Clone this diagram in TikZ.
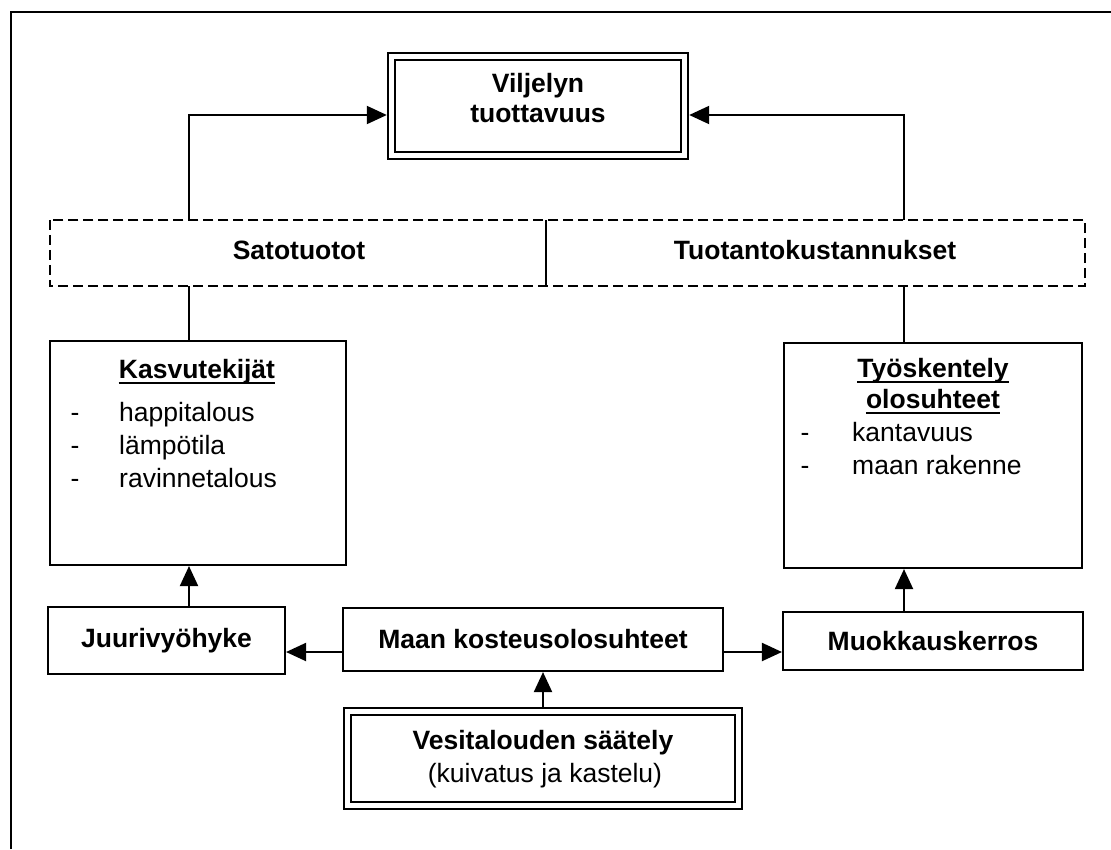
\documentclass[tikz,border=0pt]{standalone}
\usepackage{fontspec}
\setmainfont{Liberation Sans}
\usetikzlibrary{arrows.meta,calc}
\begin{document}
\begin{tikzpicture}[x=1pt,y=-1pt,
  every node/.style={font=\fontsize{26.5pt}{31pt}\selectfont},
  box/.style={draw,line width=2.1pt,inner sep=0pt},
  dbox/.style={draw,line width=2.2pt,double,double distance=5pt,inner sep=0pt,outer sep=4.7pt},
  boldbox/.style={box,font=\fontsize{26.5pt}{31pt}\selectfont\bfseries},
  txtb/.style={anchor=base,inner sep=0pt,font=\fontsize{26.5pt}{31pt}\selectfont\bfseries},
  txtc/.style={anchor=base,inner sep=0pt},
  txtl/.style={anchor=base west,inner sep=0pt},
  uline/.style={line width=1.9pt},
  dashbox/.style={line width=1.8pt,dash pattern=on 10pt off 5pt},
  conn/.style={line width=2pt},
  arr/.style={conn,-{Triangle[length=20pt,width=18pt]}}
]
\useasboundingbox (0,0) rectangle (1111,849);

% page frame (left and top edges)
\draw[line width=2.2pt] (11,849) -- (11,12) -- (1111,12);

% goal box
\node[dbox,minimum width=293pt,minimum height=99pt] (tuot) at (538,106) {};
\node[txtb] (tuot1) at (538,92) {Viljelyn};
\node[txtb] (tuot2) at (538,122) {tuottavuus};

% returns / costs band
\node[inner sep=0pt,minimum width=496pt,minimum height=66pt] (sato) at (298,253) {};
\node[inner sep=0pt,minimum width=539pt,minimum height=66pt] (tkust) at (815.5,253) {};
\draw[dashbox] (sato.north west) rectangle (tkust.south east);
\draw[conn,line width=1.7pt] (sato.north east) -- (sato.south east);
\node[txtb] (satot) at (299,259) {Satotuotot};
\node[txtb] (tkustt) at (815,259) {Tuotantokustannukset};

% growth factors
\node[box,minimum width=296pt,minimum height=224pt] (kasvu) at (198,453) {};
\node[txtb] (kasvut) at (197,378) {Kasvutekijät};
\draw[uline] ([yshift=-5pt]kasvut.base west) -- ([yshift=-5pt]kasvut.base east);
\node[txtc] (k1d) at (75,421) {-};
\node[txtl] (k1) at (119,421) {happitalous};
\node[txtc] (k2d) at (75,454) {-};
\node[txtl] (k2) at (119,454) {lämpötila};
\node[txtc] (k3d) at (75,487) {-};
\node[txtl] (k3) at (119,487) {ravinnetalous};

% working conditions
\node[box,minimum width=298pt,minimum height=225pt] (tyo) at (933,455.5) {};
\node[txtb] (tyot1) at (933,377) {Työskentely};
\draw[uline] ([yshift=-5pt]tyot1.base west) -- ([yshift=-5pt]tyot1.base east);
\node[txtb] (tyot2) at (933,408) {olosuhteet};
\draw[uline] ([yshift=-5pt]tyot2.base west) -- ([yshift=-5pt]tyot2.base east);
\node[txtc] (t1d) at (805,441) {-};
\node[txtl] (t1) at (852,441) {kantavuus};
\node[txtc] (t2d) at (805,474) {-};
\node[txtl] (t2) at (852,474) {maan rakenne};

% soil layers
\node[boldbox,minimum width=237pt,minimum height=67pt] (juuri) at (166.5,640.5) {Juurivyöhyke};
\node[boldbox,minimum width=380pt,minimum height=63pt] (maan) at (533,639.5) {Maan kosteusolosuhteet};
\node[boldbox,minimum width=300pt,minimum height=58pt] (muok) at (933,641) {Muokkauskerros};

% water management
\node[dbox,minimum width=391pt,minimum height=94pt] (vesi) at (543,758.5) {};
\node[txtb] (vesi1) at (543,749) {Vesitalouden säätely};
\node[txtc] (vesi2) at (545,782) {(kuivatus ja kastelu)};

% connectors
\coordinate (lx) at (189,0);
\coordinate (rx) at (904,0);
\coordinate (ay) at (0,652);
\draw[arr] (sato.north -| lx) |- ([yshift=-9pt]tuot.west);
\draw[arr] (tkust.north -| rx) |- ([yshift=-9pt]tuot.east);
\draw[conn] (sato.south -| lx) -- (kasvu.north -| lx);
\draw[conn] (tkust.south -| rx) -- (tyo.north -| rx);
\draw[arr] (juuri.north -| lx) -- (kasvu.south -| lx);
\draw[arr] (muok.north -| rx) -- (tyo.south -| rx);
\draw[arr] (maan.west |- ay) -- (juuri.east |- ay);
\draw[arr] (maan.east |- ay) -- (muok.west |- ay);
\draw[arr] (vesi.north) -- (vesi.north |- maan.south);
\end{tikzpicture}
\end{document}
